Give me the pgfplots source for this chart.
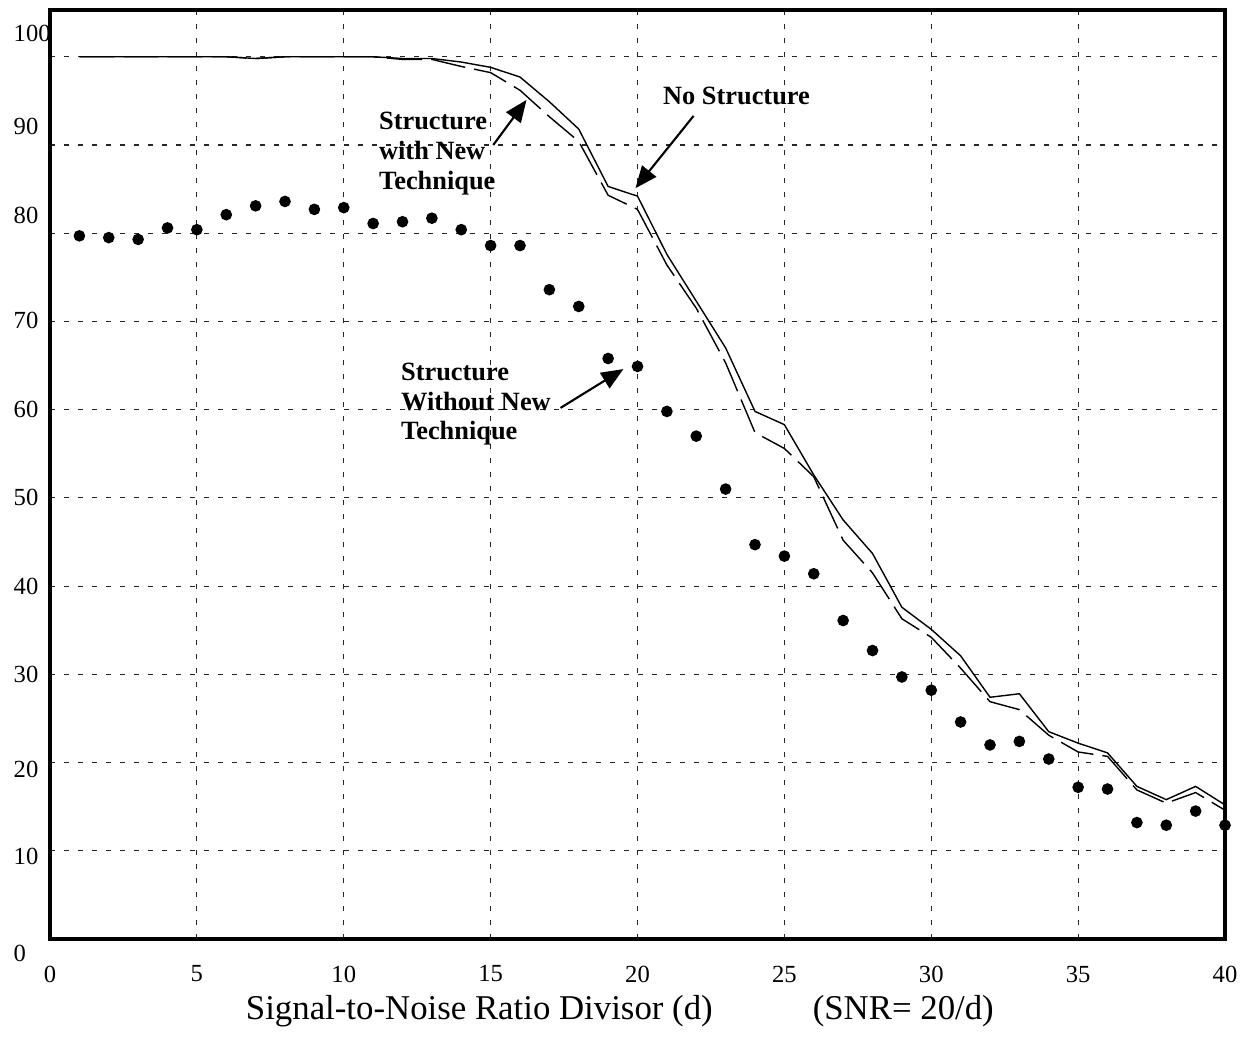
\documentclass[border=0pt]{standalone}
\usepackage{fontspec}
\setmainfont{Liberation Serif}
\usepackage{pgfplots}
\pgfplotsset{compat=1.18}
\usepackage{pgfplotstable}
\usetikzlibrary{arrows.meta}

% d: divisor; nostruct / newtech / oldtech: recognition rate (%)
\pgfplotstableread{
d  nostruct newtech oldtech
1  100   100   79.7
2  100   100   79.5
3  100   100   79.3
4  100   100   80.6
5  100   100   80.4
6  100   100   82.1
7  99.8  99.8  83.1
8  100   100   83.6
9  100   100   82.7
10 100   100   82.9
11 100   100   81.1
12 99.8  99.7  81.3
13 99.8  99.7  81.7
14 99.4  98.9  80.4
15 98.8  98.2  78.6
16 97.7  96.2  78.6
17 94.9  93.2  73.6
18 91.8  90.4  71.7
19 85.3  84.3  65.8
20 84.2  82.7  64.9
21 77.6  76.4  59.8
22 72.3  71.5  57.0
23 67.0  65.3  51.0
24 59.8  57.4  44.7
25 58.3  55.6  43.4
26 52.6  52.4  41.4
27 47.5  45.2  36.1
28 43.7  41.5  32.7
29 37.6  36.3  29.7
30 35.1  34.2  28.2
31 32.1  30.7  24.6
32 27.4  26.9  22.0
33 27.8  26.0  22.4
34 23.5  23.1  20.4
35 22.2  21.2  17.2
36 21.1  20.7  17.0
37 17.3  16.9  13.2
38 15.8  15.4  12.9
39 17.3  16.6  14.5
40 15.2  14.6  12.9
}\rates

\tikzset{
  note/.style={inner sep=0pt, align=left, font=\fontsize{7.5}{8.5}\selectfont\bfseries},
  pointer/.style={-{Triangle[length=2.2mm,width=1.8mm]}, line width=0.6pt},
}

\begin{document}
\begin{tikzpicture}
\begin{axis}[
  scale only axis, width=11.75cm, height=9.29cm,
  xmin=0, xmax=40, ymin=0, ymax=105.3,
  xtick={0,5,...,40}, ytick={0,10,...,100},
  major tick length=0pt,
  axis line style={line width=0.9pt},
  grid=major,
  grid style={black!85, line width=0.3pt, dash pattern=on 0.5mm off 0.9mm},
  /pgf/number format/assume math mode=true,
  tick label style={font=\fontsize{7}{8}\selectfont},
  xticklabel style={anchor=north, inner sep=0pt, yshift=-2.6mm},
  yticklabel style={anchor=west, inner sep=0pt, xshift=-3.7mm,
    yshift={{-1.4,-0.6,-0.7,0,0,0,0,0.1,1.8,1.9,2.3}[\ticknum]*1mm}},
  xlabel={Signal-to-Noise Ratio Divisor (d)\hspace{10mm}(SNR= 20/d)},
  xlabel style={at={(axis description cs:0.485,0)}, anchor=base,
    inner sep=0pt, yshift=-8mm, font=\fontsize{9.9}{11}\selectfont},
  clip=false,
]
\addplot[black, line width=0.4pt] table[x=d, y=nostruct] {\rates};
\addplot[black, line width=0.4pt, dash pattern=on 3.5mm off 0.9mm]
  table[x=d, y=newtech] {\rates};
\addplot[only marks, mark=*, mark size=1.45pt, black]
  table[x=d, y=oldtech] {\rates};

\node[note, anchor=north west] at (axis cs:11.18,93.8) {Structure\\with New\\Technique};
\node[note, anchor=north west] at (axis cs:20.85,96.6) {No Structure};
\node[note, anchor=north west] at (axis cs:11.93,65.4) {Structure\\Without New\\Technique};

\draw[pointer] (axis cs:15.09,90.0) -- (axis cs:16.22,95.1);
\draw[pointer] (axis cs:21.91,93.3) -- (axis cs:19.93,85.1);
\draw[pointer] (axis cs:17.38,60.2) -- (axis cs:19.52,64.6);
\end{axis}
\pgfresetboundingbox
\path[use as bounding box]
  ([xshift=-5mm,yshift=-10mm]current axis.south west) rectangle
  ([xshift=2.7mm,yshift=1mm]current axis.north east);
\end{tikzpicture}
\end{document}
